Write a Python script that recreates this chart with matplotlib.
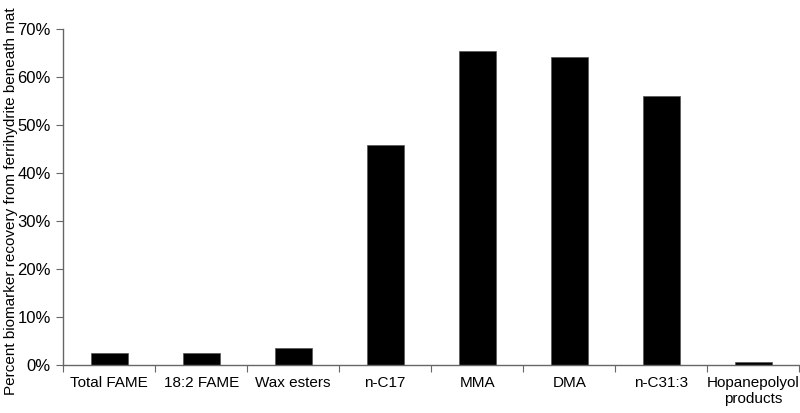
import numpy as np
import matplotlib.pyplot as plt
from matplotlib.ticker import PercentFormatter, FixedLocator

plt.rcParams.update({
    "font.family": ["Liberation Sans", "DejaVu Sans"],
    "font.size": 11,
})

categories = ["Total FAME", "18:2 FAME", "Wax esters", "n-C17", "MMA", "DMA",
              "n-C31:3", "Hopanepolyol\nproducts"]
recovery_pct = [2.5, 2.5, 3.5, 45.8, 65.4, 64.2, 56.1, 0.55]


def main():
    fig = plt.figure(figsize=(8, 4.13), dpi=100)
    ax = fig.add_axes([0.079, 0.116, 0.92, 0.814])

    x = np.arange(len(categories))
    ax.bar(x, recovery_pct, width=0.4, color="black", edgecolor="#555555", linewidth=0.5)

    ax.set_xlim(-0.5, len(categories) - 0.5)
    ax.set_ylim(0, 70)
    ax.yaxis.set_major_formatter(PercentFormatter(decimals=0))
    ax.set_yticks(np.arange(0, 71, 10))

    # category boundaries get the tick marks, labels sit at centres
    ax.xaxis.set_major_locator(FixedLocator(np.arange(-0.5, len(categories), 1.0)))
    ax.xaxis.set_minor_locator(FixedLocator(x))
    ax.set_xticklabels([])
    ax.set_xticklabels(categories, minor=True)
    ax.tick_params(axis="x", which="major", length=5, color="#666666")
    ax.tick_params(axis="x", which="minor", length=0, pad=8, labelsize=11)
    ax.tick_params(axis="y", length=5, color="#666666", labelsize=12, pad=4)

    for side in ["top", "right"]:
        ax.spines[side].set_visible(False)
    for side in ["left", "bottom"]:
        ax.spines[side].set_color("#666666")
        ax.spines[side].set_linewidth(1.0)

    ax.set_ylabel("Percent biomarker recovery from ferrihydrite beneath mat",
                  fontsize=11)
    ax.yaxis.set_label_coords(-0.061, 0.488)

    fig.savefig("out.png", dpi=100)
    plt.close(fig)


if __name__ == "__main__":
    main()
